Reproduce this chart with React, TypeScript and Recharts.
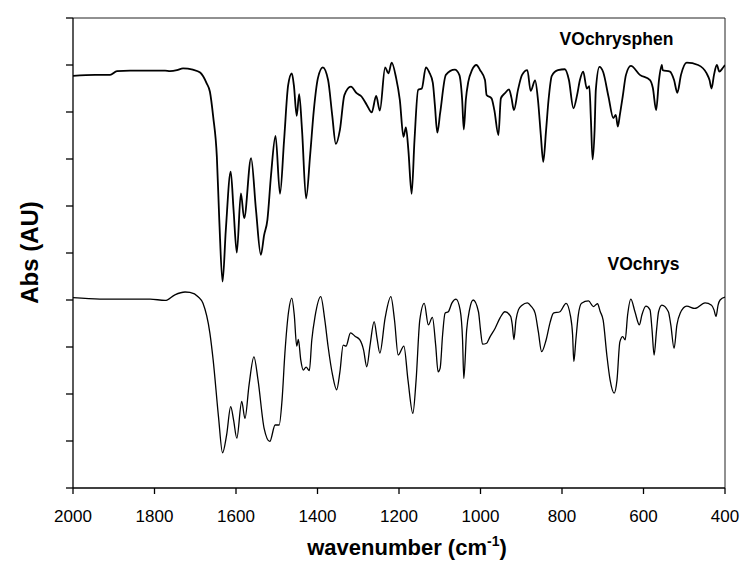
import { LineChart, Line, XAxis, YAxis, ReferenceLine } from "recharts";

// wavenumber (cm-1), absorbance (arbitrary, offset)
const VOCHRYSPHEN: [number, number][] = [
  [2000, 8.77], [1946, 8.79], [1909, 8.79], [1892, 8.87], [1860, 8.88], [1811, 8.88],
  [1774, 8.88], [1762, 8.87], [1745, 8.89], [1730, 8.93], [1706, 8.9], [1688, 8.84],
  [1672, 8.61], [1664, 8.43], [1656, 7.9], [1647, 7.05], [1641, 5.7], [1633, 4.39],
  [1625, 5.49], [1613, 6.73], [1606, 5.92], [1598, 5.01], [1588, 6.27], [1580, 5.74],
  [1563, 7.02], [1551, 5.92], [1539, 4.96], [1531, 5.38], [1523, 5.7], [1514, 6.66],
  [1503, 7.49], [1492, 6.26], [1482, 7.4], [1472, 8.57], [1463, 8.82], [1458, 8.57],
  [1451, 7.92], [1445, 8.38], [1438, 7.62], [1428, 6.16], [1418, 7.09], [1409, 8.04],
  [1399, 8.72], [1387, 8.95], [1374, 8.68], [1364, 7.94], [1355, 7.32], [1345, 7.62],
  [1334, 8.36], [1318, 8.54], [1304, 8.4], [1292, 8.33], [1279, 8.15], [1267, 7.99],
  [1256, 8.34], [1247, 8.03], [1234, 8.95], [1226, 8.82], [1218, 9.05], [1207, 8.72],
  [1198, 8.26], [1189, 7.47], [1183, 7.67], [1177, 7.19], [1169, 6.26], [1162, 7.4],
  [1153, 8.47], [1144, 8.5], [1134, 8.95], [1126, 8.85], [1117, 8.62], [1112, 8.15],
  [1106, 7.56], [1099, 7.98], [1085, 8.79], [1063, 8.9], [1052, 8.79], [1045, 8.26],
  [1041, 7.63], [1036, 8.26], [1030, 8.64], [1021, 8.89], [1010, 9.0], [1001, 8.89],
  [989, 8.68], [985, 8.36], [973, 8.29], [966, 8.04], [956, 7.51], [950, 8.29],
  [940, 8.4], [930, 8.48], [924, 8.3], [918, 8.04], [908, 8.47], [898, 8.79],
  [885, 8.89], [877, 8.45], [866, 8.67], [859, 8.26], [852, 7.51], [846, 6.94],
  [839, 7.62], [833, 8.26], [825, 8.77], [810, 8.89], [793, 8.91], [783, 8.68],
  [772, 8.08], [763, 8.36], [756, 8.68], [748, 8.86], [739, 8.5], [733, 8.55],
  [729, 7.83], [725, 6.99], [720, 7.62], [717, 8.47], [708, 8.96], [699, 8.85],
  [686, 8.33], [674, 7.87], [668, 7.94], [663, 7.69], [658, 7.94], [651, 8.33],
  [643, 8.79], [631, 8.98], [609, 8.79], [584, 8.68], [577, 8.51], [569, 8.04],
  [562, 8.68], [555, 9.0], [553, 8.89], [535, 8.86], [525, 8.68], [517, 8.41],
  [508, 8.79], [494, 9.05], [466, 9.0], [445, 8.82], [438, 8.68], [433, 8.5],
  [427, 8.79], [420, 9.0], [414, 8.86], [406, 8.93], [400, 9.0],
];

const VOCHRYS: [number, number][] = [
  [2000, 4.05], [1934, 4.02], [1860, 4.02], [1811, 4.02], [1774, 3.99], [1750, 4.11],
  [1725, 4.17], [1713, 4.16], [1693, 4.07], [1681, 3.93], [1664, 3.29], [1656, 2.72],
  [1643, 1.52], [1633, 0.75], [1623, 1.13], [1613, 1.73], [1606, 1.45], [1598, 1.06],
  [1586, 1.84], [1578, 1.48], [1568, 2.19], [1556, 2.79], [1546, 2.3], [1531, 1.27],
  [1517, 0.99], [1504, 1.34], [1494, 1.34], [1487, 1.87], [1480, 2.87], [1471, 3.75],
  [1463, 4.04], [1457, 3.68], [1451, 3.02], [1447, 3.16], [1441, 2.72], [1435, 2.51],
  [1428, 2.57], [1420, 2.5], [1414, 3.15], [1406, 3.65], [1392, 4.07], [1382, 3.57],
  [1374, 3.01], [1363, 2.4], [1353, 2.09], [1345, 2.47], [1337, 3.04], [1330, 3.02],
  [1319, 3.3], [1308, 3.23], [1296, 3.15], [1287, 2.94], [1279, 2.58], [1271, 3.04],
  [1261, 3.54], [1254, 3.19], [1247, 2.87], [1234, 3.62], [1220, 4.07], [1211, 3.57],
  [1202, 2.83], [1188, 3.02], [1178, 2.3], [1166, 1.59], [1158, 2.3], [1149, 3.57],
  [1138, 3.93], [1128, 3.47], [1118, 3.63], [1110, 3.04], [1104, 2.47], [1099, 2.55],
  [1093, 3.26], [1087, 3.72], [1079, 3.75], [1070, 3.94], [1060, 4.02], [1050, 3.79],
  [1044, 3.15], [1041, 2.33], [1034, 3.36], [1027, 3.79], [1018, 4.0], [1005, 3.75],
  [1000, 3.36], [995, 3.06], [985, 3.08], [977, 3.21], [964, 3.4], [952, 3.62],
  [940, 3.75], [926, 3.65], [922, 3.47], [918, 3.16], [913, 3.57], [907, 3.79],
  [898, 3.89], [885, 3.94], [876, 3.87], [866, 3.72], [858, 3.32], [850, 2.9],
  [839, 3.15], [829, 3.53], [821, 3.72], [805, 3.75], [790, 3.93], [779, 3.65],
  [774, 3.26], [771, 2.69], [766, 3.15], [760, 3.68], [752, 3.93], [735, 3.98],
  [723, 3.86], [713, 3.92], [706, 3.75], [699, 3.57], [690, 2.83], [682, 2.3],
  [672, 2.02], [665, 2.3], [658, 3.11], [651, 3.22], [645, 3.15], [639, 3.68],
  [631, 4.02], [621, 3.75], [610, 3.47], [604, 3.68], [594, 3.87], [584, 3.79],
  [579, 3.36], [574, 2.83], [568, 3.36], [563, 3.75], [555, 3.89], [539, 3.75],
  [533, 3.47], [525, 2.97], [518, 3.47], [510, 3.72], [494, 3.87], [474, 3.82],
  [449, 3.94], [433, 3.89], [427, 3.79], [422, 3.65], [417, 3.89], [412, 4.0],
  [400, 4.06],
];

const X_TICKS = [2000, 1800, 1600, 1400, 1200, 1000, 800, 600, 400];
const Y_TICKS = [0, 1, 2, 3, 4, 5, 6, 7, 8, 9, 10];

const FONT = "'Liberation Sans', Arial, sans-serif";

export default function App() {
  const phen = VOCHRYSPHEN.map(([wn, abs]) => ({ wn, abs }));
  const chrys = VOCHRYS.map(([wn, abs]) => ({ wn, abs }));

  return (
    <div style={{ position: "absolute", left: 0, top: 0, width: 741, height: 561, background: "#fff" }}>
      <LineChart width={741} height={561} margin={{ top: 18, right: 16, bottom: 43, left: 13 }}>
        <XAxis
          type="number"
          dataKey="wn"
          domain={[400, 2000]}
          reversed
          allowDataOverflow
          ticks={X_TICKS}
          interval={0}
          height={30}
          tickSize={6}
          tickMargin={16}
          axisLine={{ stroke: "#000", strokeWidth: 1.3 }}
          tickLine={{ stroke: "#000", strokeWidth: 1.3 }}
          tick={{ fill: "#000", fontSize: 17, fontFamily: FONT }}
        />
        <YAxis
          type="number"
          domain={[0, 10]}
          ticks={Y_TICKS}
          interval={0}
          width={60}
          tickSize={7}
          tickFormatter={() => ""}
          axisLine={{ stroke: "#000", strokeWidth: 1.3 }}
          tickLine={{ stroke: "#000", strokeWidth: 1.3 }}
        />
        <ReferenceLine y={10} stroke="#222" strokeWidth={1} />
        <ReferenceLine x={400} stroke="#222" strokeWidth={1} />
        <Line
          data={phen}
          dataKey="abs"
          type="monotone"
          stroke="#000"
          strokeWidth={1.8}
          dot={false}
          isAnimationActive={false}
        />
        <Line
          data={chrys}
          dataKey="abs"
          type="monotone"
          stroke="#000"
          strokeWidth={1.3}
          dot={false}
          isAnimationActive={false}
        />
      </LineChart>
      <svg
        width={741}
        height={561}
        style={{ position: "absolute", left: 0, top: 0, pointerEvents: "none" }}
      >
        <text x={616.5} y={45} textAnchor="middle" fontFamily={FONT} fontWeight="bold" fontSize={17.5} fill="#000">
          VOchrysphen
        </text>
        <text x={643.5} y={270} textAnchor="middle" fontFamily={FONT} fontWeight="bold" fontSize={17.5} fill="#000">
          VOchrys
        </text>
        <text x={407} y={555} textAnchor="middle" fontFamily={FONT} fontWeight="bold" fontSize={22} fill="#000">
          wavenumber (cm
          <tspan fontSize={14} dy={-9}>-1</tspan>
          <tspan fontSize={22} dy={9}>)</tspan>
        </text>
        <text
          x={38}
          y={252.5}
          textAnchor="middle"
          transform="rotate(-90, 38, 252.5)"
          fontFamily={FONT}
          fontWeight="bold"
          fontSize={24}
          fill="#000"
        >
          Abs (AU)
        </text>
      </svg>
    </div>
  );
}
